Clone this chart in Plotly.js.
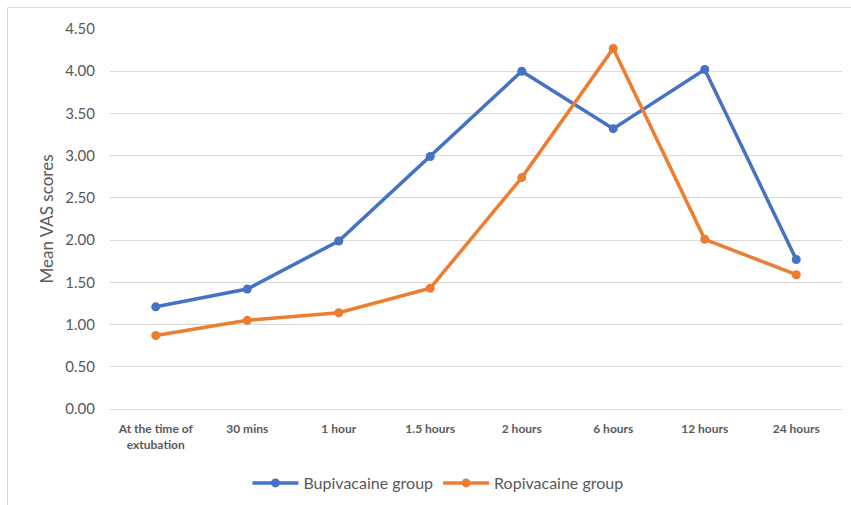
<!DOCTYPE html>
<html>
<head>
<meta charset="utf-8">
<script src="https://cdn.plot.ly/plotly-3.0.1.min.js"></script>
<style>html,body{margin:0;padding:0;background:#fff;}#chart{width:851px;height:505px;}</style>
</head>
<body>
<div id="chart"></div>
<script>
const categories = ["At the time of<br>extubation", "30 mins", "1 hour", "1.5 hours", "2 hours", "6 hours", "12 hours", "24 hours"];
const bupivacaine = [1.21, 1.42, 1.99, 2.99, 4.00, 3.32, 4.02, 1.77];
const ropivacaine = [0.87, 1.05, 1.14, 1.43, 2.74, 4.27, 2.01, 1.59];
const yTicks = [0, 0.5, 1, 1.5, 2, 2.5, 3, 3.5, 4, 4.5];
const yTickLabels = ["0.00", "0.50", "1.00", "1.50", "2.00", "2.50", "3.00", "3.50", "4.00", "4.50"];

const L = 110, R = 9, T = 29, B = 96, W = 851, H = 505;
const pw = W - L - R, ph = H - T - B;
const px = v => (v - L) / pw;
const py = v => 1 - (v - T) / ph;

const traces = [
  {x: categories, y: bupivacaine, name: "Bupivacaine group", type: "scatter", mode: "lines+markers",
   line: {color: "#4472C4", width: 3.5}, marker: {color: "#4472C4", size: 9}},
  {x: categories, y: ropivacaine, name: "Ropivacaine group", type: "scatter", mode: "lines+markers",
   line: {color: "#ED7D31", width: 3.5}, marker: {color: "#ED7D31", size: 9}}
];

const layout = {
  width: W, height: H,
  margin: {l: L, r: R, t: T, b: B, autoexpand: false},
  paper_bgcolor: "#fff", plot_bgcolor: "#fff",
  font: {family: "Lato, 'Open Sans', sans-serif", color: "#595959"},
  showlegend: true,
  legend: {orientation: "h", x: 0.448, xanchor: "center", y: py(483), yanchor: "middle",
           font: {size: 16, color: "#595959"}, itemwidth: 46, tracegroupgap: 0},
  xaxis: {type: "category", range: [-0.5, 7.5], showgrid: false, zeroline: false,
          showline: false, ticks: "", ticklabelstandoff: 11,
          tickfont: {size: 12, color: "#595959", weight: "bold"},
          automargin: false, fixedrange: true},
  yaxis: {range: [0, 4.5], tickvals: yTicks, ticktext: yTickLabels, showgrid: true,
          gridcolor: "#D9D9D9", gridwidth: 1, zeroline: true, zerolinecolor: "#D9D9D9",
          showline: false, ticks: "", ticklabelstandoff: 14, tickfont: {size: 15, color: "#595959"},
          title: {text: "Mean VAS scores", font: {size: 17, color: "#595959"}, standoff: 7},
          automargin: false, fixedrange: true},
  shapes: [
    {type: "rect", xref: "paper", yref: "paper", x0: px(7.5), x1: px(870), y0: py(7.5), y1: py(520),
     line: {color: "#D9D9D9", width: 1}, fillcolor: "rgba(0,0,0,0)", layer: "below"}
  ]
};

Plotly.newPlot("chart", traces, layout, {displayModeBar: false, staticPlot: true});
</script>
</body>
</html>
